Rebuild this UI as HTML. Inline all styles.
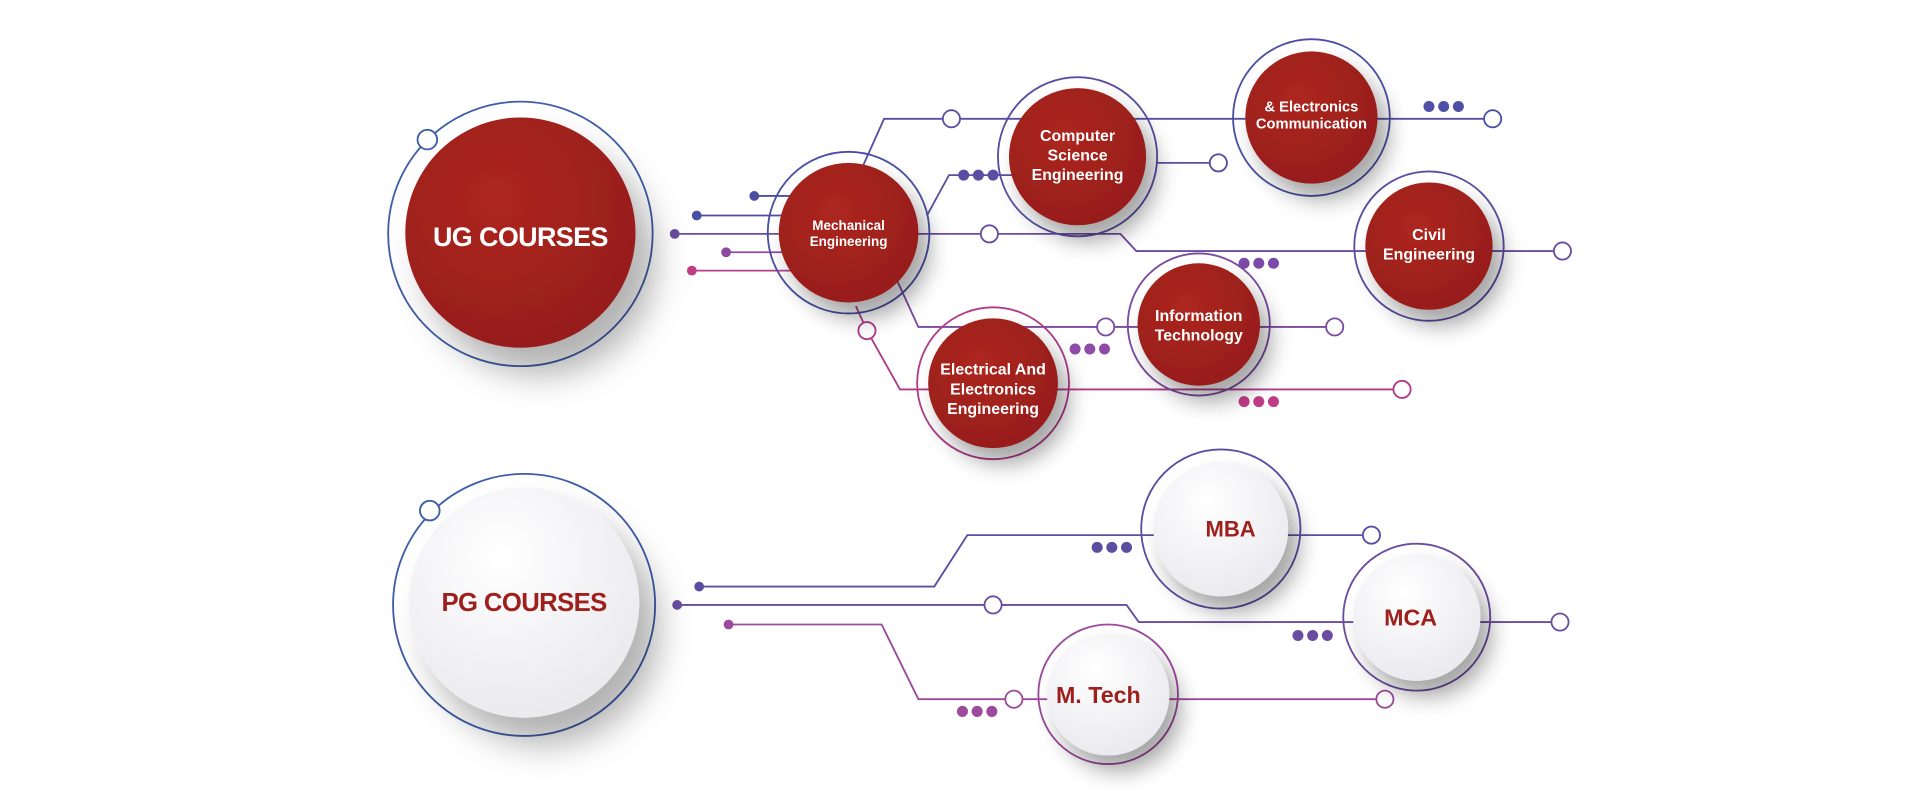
<!DOCTYPE html>
<html><head><meta charset="utf-8"><style>
html,body{margin:0;padding:0;background:#fff;width:1920px;height:799px;overflow:hidden}
svg{display:block}
text{font-family:"Liberation Sans","DejaVu Sans",sans-serif;font-weight:bold;text-anchor:middle}
</style></head><body>
<svg width="1920" height="799" viewBox="0 0 1568 652.5" preserveAspectRatio="none" xmlns="http://www.w3.org/2000/svg">
<defs>
<filter id="sh" x="-50%" y="-50%" width="200%" height="200%"><feDropShadow dx="9" dy="13" stdDeviation="9" flood-color="#000" flood-opacity="0.35"/></filter>
<filter id="shb" x="-50%" y="-50%" width="200%" height="200%"><feDropShadow dx="16" dy="22" stdDeviation="14" flood-color="#000" flood-opacity="0.3"/></filter>
<radialGradient id="red" cx="40%" cy="35%" r="70%"><stop offset="0" stop-color="#ad2620"/><stop offset="1" stop-color="#961d1a"/></radialGradient>
<radialGradient id="wh" cx="40%" cy="30%" r="75%"><stop offset="0" stop-color="#ffffff"/><stop offset="1" stop-color="#e9e9ee"/></radialGradient>
</defs>
<g fill="none" stroke-width="1.5">
<path d="M616 160H660" stroke="#4a4fa3"/>
<path d="M569 176H650" stroke="#4a4fa3"/>
<path d="M551 191H915L928 205H1276" stroke="#6a4ca0"/>
<path d="M593 206H650" stroke="#8e4a9e"/>
<path d="M565 221H660" stroke="#b3408f"/>
<path d="M705 135L722 97H1219" stroke="#5a4ea3"/>
<path d="M757 176L775 143H830" stroke="#5a4ea3"/>
<path d="M945 133H995" stroke="#5a4ea3"/>
<path d="M733 230L750 267H1090" stroke="#7a4aa0"/>
<path d="M699 250L708 270L735 318H1145" stroke="#b03a8a"/>
<path d="M571 479H763L790 437H1120" stroke="#5a4ea3"/>
<path d="M553 494H920L930 508H1274" stroke="#6a4ca0"/>
<path d="M595 510H720L750 571H1131" stroke="#9c4a9c"/>
</g>
<g>
<circle cx="616" cy="160" r="4" fill="#4a4fa3"/><circle cx="569" cy="176" r="4" fill="#4a4fa3"/>
<circle cx="551" cy="191" r="4" fill="#6a4ca0"/><circle cx="593" cy="206" r="4" fill="#8e4a9e"/>
<circle cx="565" cy="221" r="4" fill="#c03c88"/>
<circle cx="571" cy="479" r="4" fill="#5a4ea3"/><circle cx="553" cy="494" r="4" fill="#6a4ca0"/><circle cx="595" cy="510" r="4" fill="#9c4a9c"/>
</g>
<g fill="#4f4fa8"><circle cx="1167" cy="87" r="4.5"/><circle cx="1179" cy="87" r="4.5"/><circle cx="1191" cy="87" r="4.5"/></g>
<g fill="#5a4ea3"><circle cx="787" cy="143" r="4.5"/><circle cx="799" cy="143" r="4.5"/><circle cx="811" cy="143" r="4.5"/></g>
<g fill="#7a4aa8"><circle cx="1016" cy="215" r="4.5"/><circle cx="1028" cy="215" r="4.5"/><circle cx="1040" cy="215" r="4.5"/></g>
<g fill="#8e4aa8"><circle cx="878" cy="285" r="4.5"/><circle cx="890" cy="285" r="4.5"/><circle cx="902" cy="285" r="4.5"/></g>
<g fill="#c03c88"><circle cx="1016" cy="328" r="4.5"/><circle cx="1028" cy="328" r="4.5"/><circle cx="1040" cy="328" r="4.5"/></g>
<g fill="#5a4ea3"><circle cx="896" cy="447" r="4.5"/><circle cx="908" cy="447" r="4.5"/><circle cx="920" cy="447" r="4.5"/></g>
<g fill="#6a4ca0"><circle cx="1060" cy="519" r="4.5"/><circle cx="1072" cy="519" r="4.5"/><circle cx="1084" cy="519" r="4.5"/></g>
<g fill="#9c4a9c"><circle cx="786" cy="581" r="4.5"/><circle cx="798" cy="581" r="4.5"/><circle cx="810" cy="581" r="4.5"/></g>
<g fill="none" stroke-width="1.5">
<circle cx="425" cy="191" r="108" stroke="#3e5da8"/>
<circle cx="428" cy="494" r="107" stroke="#3e5da8"/>
<circle cx="693" cy="190" r="66" stroke="#4a4fa3"/>
<circle cx="880" cy="128" r="65" stroke="#5a4ea3"/>
<circle cx="1071" cy="96" r="64" stroke="#4a4fa3"/>
<circle cx="1167" cy="201" r="61" stroke="#5a4ea3"/>
<circle cx="979" cy="265" r="58" stroke="#7a4aa0"/>
<circle cx="811" cy="313" r="62" stroke="#b03a8a"/>
<circle cx="997" cy="432" r="65" stroke="#5a4ea3"/>
<circle cx="1157" cy="504" r="60" stroke="#6a4ca0"/>
<circle cx="905" cy="567" r="57" stroke="#9c4a9c"/>
</g>
<g fill="#fff" stroke-width="1.5">
<circle cx="349" cy="114" r="8" stroke="#3e5da8"/>
<circle cx="351" cy="417" r="8" stroke="#3e5da8"/>
<circle cx="777" cy="97" r="7" stroke="#5a4ea3"/>
<circle cx="1219" cy="97" r="7" stroke="#4a4fa3"/>
<circle cx="995" cy="133" r="7" stroke="#5a4ea3"/>
<circle cx="808" cy="191" r="7" stroke="#6a4ca0"/>
<circle cx="1276" cy="205" r="7" stroke="#6a4ca0"/>
<circle cx="903" cy="267" r="7" stroke="#7a4aa0"/>
<circle cx="1090" cy="267" r="7" stroke="#7a4aa0"/>
<circle cx="708" cy="270" r="7" stroke="#b03a8a"/>
<circle cx="1145" cy="318" r="7" stroke="#b03a8a"/>
<circle cx="1120" cy="437" r="7" stroke="#5a4ea3"/>
<circle cx="811" cy="494" r="7" stroke="#6a4ca0"/>
<circle cx="1274" cy="508" r="7" stroke="#6a4ca0"/>
<circle cx="828" cy="571" r="7" stroke="#9c4a9c"/>
<circle cx="1131" cy="571" r="7" stroke="#9c4a9c"/>
</g>
<g fill="url(#red)">
<circle cx="425" cy="190" r="94" filter="url(#shb)"/>
<circle cx="693" cy="190" r="57" filter="url(#sh)"/>
<circle cx="880" cy="128" r="56" filter="url(#sh)"/>
<circle cx="1071" cy="96" r="54" filter="url(#sh)"/>
<circle cx="1167" cy="201" r="52" filter="url(#sh)"/>
<circle cx="979" cy="265" r="50" filter="url(#sh)"/>
<circle cx="811" cy="313" r="53" filter="url(#sh)"/>
</g>
<g fill="url(#wh)">
<circle cx="428" cy="492" r="94" filter="url(#shb)"/>
<circle cx="997" cy="432" r="55" filter="url(#sh)"/>
<circle cx="1157" cy="504" r="52" filter="url(#sh)"/>
<circle cx="905" cy="567" r="50" filter="url(#sh)"/>
</g>
<g fill="#fff">
<text x="425" y="201" font-size="22" letter-spacing="-0.5">UG COURSES</text>
<text x="693" y="188" font-size="11">Mechanical</text>
<text x="693" y="201" font-size="11">Engineering</text>
<text x="880" y="115" font-size="13">Computer</text>
<text x="880" y="131" font-size="13">Science</text>
<text x="880" y="147" font-size="13">Engineering</text>
<text x="1071" y="91" font-size="12">&amp; Electronics</text>
<text x="1071" y="105" font-size="12">Communication</text>
<text x="1167" y="196" font-size="13">Civil</text>
<text x="1167" y="212" font-size="13">Engineering</text>
<text x="979" y="262" font-size="13">Information</text>
<text x="979" y="278" font-size="13">Technology</text>
<text x="811" y="306" font-size="13">Electrical And</text>
<text x="811" y="322" font-size="13">Electronics</text>
<text x="811" y="338" font-size="13">Engineering</text>
</g>
<g fill="#9e1f1b">
<text x="428" y="499" font-size="21" letter-spacing="-0.5">PG COURSES</text>
<text x="1005" y="438" font-size="18">MBA</text>
<text x="1152" y="511" font-size="19">MCA</text>
<text x="897" y="574" font-size="19">M. Tech</text>
</g>
</svg>
</body></html>
